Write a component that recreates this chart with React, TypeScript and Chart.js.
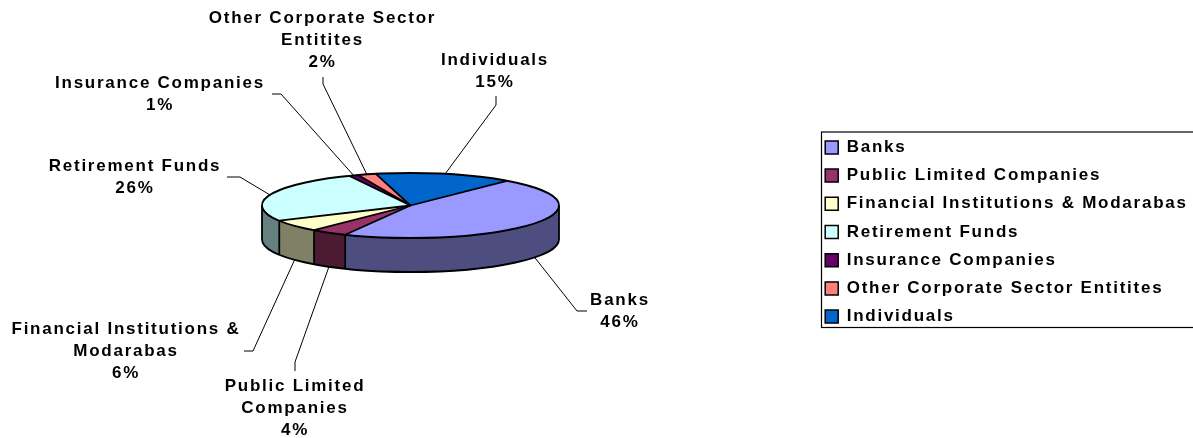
import React, { useEffect, useRef } from "react";
import { Chart, registerables } from "chart.js";

Chart.register(...registerables);

const categories = [
  "Banks",
  "Public Limited Companies",
  "Financial Institutions & Modarabas",
  "Retirement Funds",
  "Insurance Companies",
  "Other Corporate Sector Entitites",
  "Individuals",
];
const shares = [46, 4, 6, 26, 1, 2, 15];
const topColors = ["#9999FF", "#993366", "#FFFFCC", "#CCFFFF", "#660066", "#FF8080", "#0066CC"];
const wallColors = ["#4D4D80", "#4D1A33", "#808066", "#668080", "#330033", "#804040", "#003366"];

// Wrapped callout text for each slice (the percentage line is appended from the values).
const calloutLines = [
  ["Banks"],
  ["Public Limited", "Companies"],
  ["Financial Institutions &", "Modarabas"],
  ["Retirement Funds"],
  ["Insurance Companies"],
  ["Other Corporate Sector", "Entitites"],
  ["Individuals"],
];
// Callout placement: text centre x, first line centre y, then the leader's elbow and tail.
const calloutX = [620, 295, 126, 135, 160, 322.5, 495];
const calloutY = [300, 386, 329, 166, 83, 18, 60];
const elbows = [[577, 311], [295, 362], [253, 351], [240, 177], [281, 94], [323, 84], [496, 105]];
const tails = [[587, 311], [295, 371], [244, 351], [227, 177], [272, 94], [323, 77], [496, 96]];

const WIDTH = 1193;
const HEIGHT = 438;
const FONT_SIZE = 17;
const FONT_FAMILY = '"Liberation Sans", Arial, sans-serif';
const FONT = `700 ${FONT_SIZE}px ${FONT_FAMILY}`;
const TRACKING = "1.75px";
const LINE_PITCH = 22.3;
const PIE_CX = 410.5;
const PIE_CY = 205.5;
const PIE_RADIUS = 148.5;
const TILT = 0.219;
const DEPTH = 34;
const LEGEND_BOX = { left: 821.5, top: 132, right: 1200, bottom: 327.5 };

// Keeps the tracked lettering on the context before measuring and painting.
const tracking = {
  id: "tracking",
  beforeLayout(chart: any) {
    chart.ctx.letterSpacing = TRACKING;
  },
  beforeDraw(chart: any) {
    chart.ctx.letterSpacing = TRACKING;
  },
};

function pieElements(chart: any) {
  return chart.getDatasetMeta(0).data as any[];
}

function rimPoint(angle: number) {
  return {
    x: PIE_CX + PIE_RADIUS * Math.cos(angle),
    y: PIE_CY + PIE_RADIUS * TILT * Math.sin(angle),
  };
}

// The part of a slice's arc that lies on the near half of the ellipse.
function nearSpan(start: number, end: number) {
  const turn = Math.PI * 2;
  let a = start % turn;
  if (a < 0) a += turn;
  const b = a + (end - start);
  const spans: [number, number][] = [];
  const s1 = Math.max(a, 0);
  const e1 = Math.min(b, Math.PI);
  if (e1 > s1) spans.push([s1, e1]);
  const s2 = Math.max(a, turn);
  const e2 = Math.min(b, turn + Math.PI);
  if (e2 > s2) spans.push([s2, e2]);
  return spans;
}

// Flattens the pie into a disc standing on an extruded wall.
const disc = {
  id: "disc",
  beforeDatasetDraw(chart: any) {
    const { ctx } = chart;
    const ry = PIE_RADIUS * TILT;
    const elements = pieElements(chart);

    elements.forEach((el, i) => {
      const { startAngle, endAngle } = el.getProps(["startAngle", "endAngle"], true);
      nearSpan(startAngle, endAngle).forEach(([a, b]) => {
        ctx.beginPath();
        ctx.ellipse(PIE_CX, PIE_CY, PIE_RADIUS, ry, 0, a, b);
        ctx.ellipse(PIE_CX, PIE_CY + DEPTH, PIE_RADIUS, ry, 0, b, a, true);
        ctx.closePath();
        ctx.fillStyle = wallColors[i];
        ctx.fill();
      });
    });

    const el0 = elements[0];
    ctx.save();
    ctx.translate(PIE_CX, PIE_CY);
    ctx.scale(1, TILT);
    ctx.translate(-el0.x, -el0.y);
    return true;
  },
  afterDatasetDraw(chart: any) {
    const { ctx } = chart;
    ctx.restore();
    const ry = PIE_RADIUS * TILT;
    ctx.save();
    ctx.strokeStyle = "#000";
    ctx.lineWidth = 1.8;
    ctx.lineJoin = "round";

    // Near-side silhouette of the wall.
    ctx.beginPath();
    ctx.moveTo(PIE_CX + PIE_RADIUS, PIE_CY);
    ctx.ellipse(PIE_CX, PIE_CY + DEPTH, PIE_RADIUS, ry, 0, 0, Math.PI);
    ctx.lineTo(PIE_CX - PIE_RADIUS, PIE_CY);
    ctx.stroke();

    ctx.beginPath();
    ctx.ellipse(PIE_CX, PIE_CY, PIE_RADIUS, ry, 0, 0, Math.PI * 2);
    ctx.stroke();

    pieElements(chart).forEach((el) => {
      const { startAngle } = el.getProps(["startAngle"], true);
      const p = rimPoint(startAngle);
      ctx.beginPath();
      ctx.moveTo(PIE_CX, PIE_CY);
      ctx.lineTo(p.x, p.y);
      ctx.stroke();
      if (Math.sin(startAngle) > 0) {
        ctx.beginPath();
        ctx.moveTo(p.x, p.y);
        ctx.lineTo(p.x, p.y + DEPTH);
        ctx.stroke();
      }
    });
    ctx.restore();
  },
};

// Callouts with their leader lines, anchored on each slice's mid angle.
const callouts = {
  id: "callouts",
  afterDraw(chart: any) {
    const { ctx } = chart;
    ctx.save();
    ctx.letterSpacing = TRACKING;
    ctx.font = FONT;
    ctx.fillStyle = "#000";
    ctx.strokeStyle = "#000";
    ctx.lineWidth = 1;
    ctx.textAlign = "center";
    ctx.textBaseline = "middle";

    pieElements(chart).forEach((el, i) => {
      const { startAngle, endAngle } = el.getProps(["startAngle", "endAngle"], true);
      const mid = (startAngle + endAngle) / 2;
      const rim = rimPoint(mid);
      const anchorY = Math.sin(mid) > 0 ? rim.y + DEPTH : rim.y;

      ctx.beginPath();
      ctx.moveTo(tails[i][0], tails[i][1]);
      ctx.lineTo(elbows[i][0], elbows[i][1]);
      ctx.lineTo(rim.x, anchorY);
      ctx.stroke();

      const lines = [...calloutLines[i], `${shares[i]}%`];
      lines.forEach((line, n) => {
        ctx.fillText(line, calloutX[i], calloutY[i] + n * LINE_PITCH);
      });
    });

    // Legend frame: open on the right, where it runs off the canvas.
    ctx.strokeStyle = "#000";
    ctx.lineWidth = 1.2;
    ctx.strokeRect(
      LEGEND_BOX.left,
      LEGEND_BOX.top,
      LEGEND_BOX.right - LEGEND_BOX.left,
      LEGEND_BOX.bottom - LEGEND_BOX.top,
    );
    ctx.restore();
  },
};

export default function App() {
  const canvasRef = useRef<HTMLCanvasElement | null>(null);

  useEffect(() => {
    const canvas = canvasRef.current;
    if (!canvas) return;
    const chart = new Chart(canvas, {
      type: "pie",
      data: {
        labels: categories,
        datasets: [
          {
            data: shares,
            backgroundColor: topColors,
            borderWidth: 0,
            clip: false,
          } as any,
        ],
      },
      options: {
        responsive: false,
        animation: false,
        rotation: 40.5,
        radius: PIE_RADIUS,
        events: [],
        layout: { padding: { top: 26 } },
        plugins: {
          tooltip: { enabled: false },
          title: { display: false },
          legend: {
            position: "right",
            maxWidth: 379,
            labels: {
              color: "#000",
              font: { family: FONT_FAMILY, size: FONT_SIZE, weight: "bold" },
              boxWidth: 13,
              boxHeight: 13,
              padding: 11.2,
              generateLabels() {
                return categories.map((text, i) => ({
                  text,
                  index: i,
                  datasetIndex: 0,
                  fillStyle: topColors[i],
                  strokeStyle: "#000",
                  lineWidth: 1.5,
                  hidden: false,
                  fontColor: "#000",
                }));
              },
            },
          },
        },
      } as any,
      plugins: [tracking, disc, callouts],
    });
    return () => chart.destroy();
  }, []);

  return (
    <canvas
      ref={canvasRef}
      width={WIDTH}
      height={HEIGHT}
      style={{ position: "absolute", left: 0, top: 0, display: "block" }}
    />
  );
}
